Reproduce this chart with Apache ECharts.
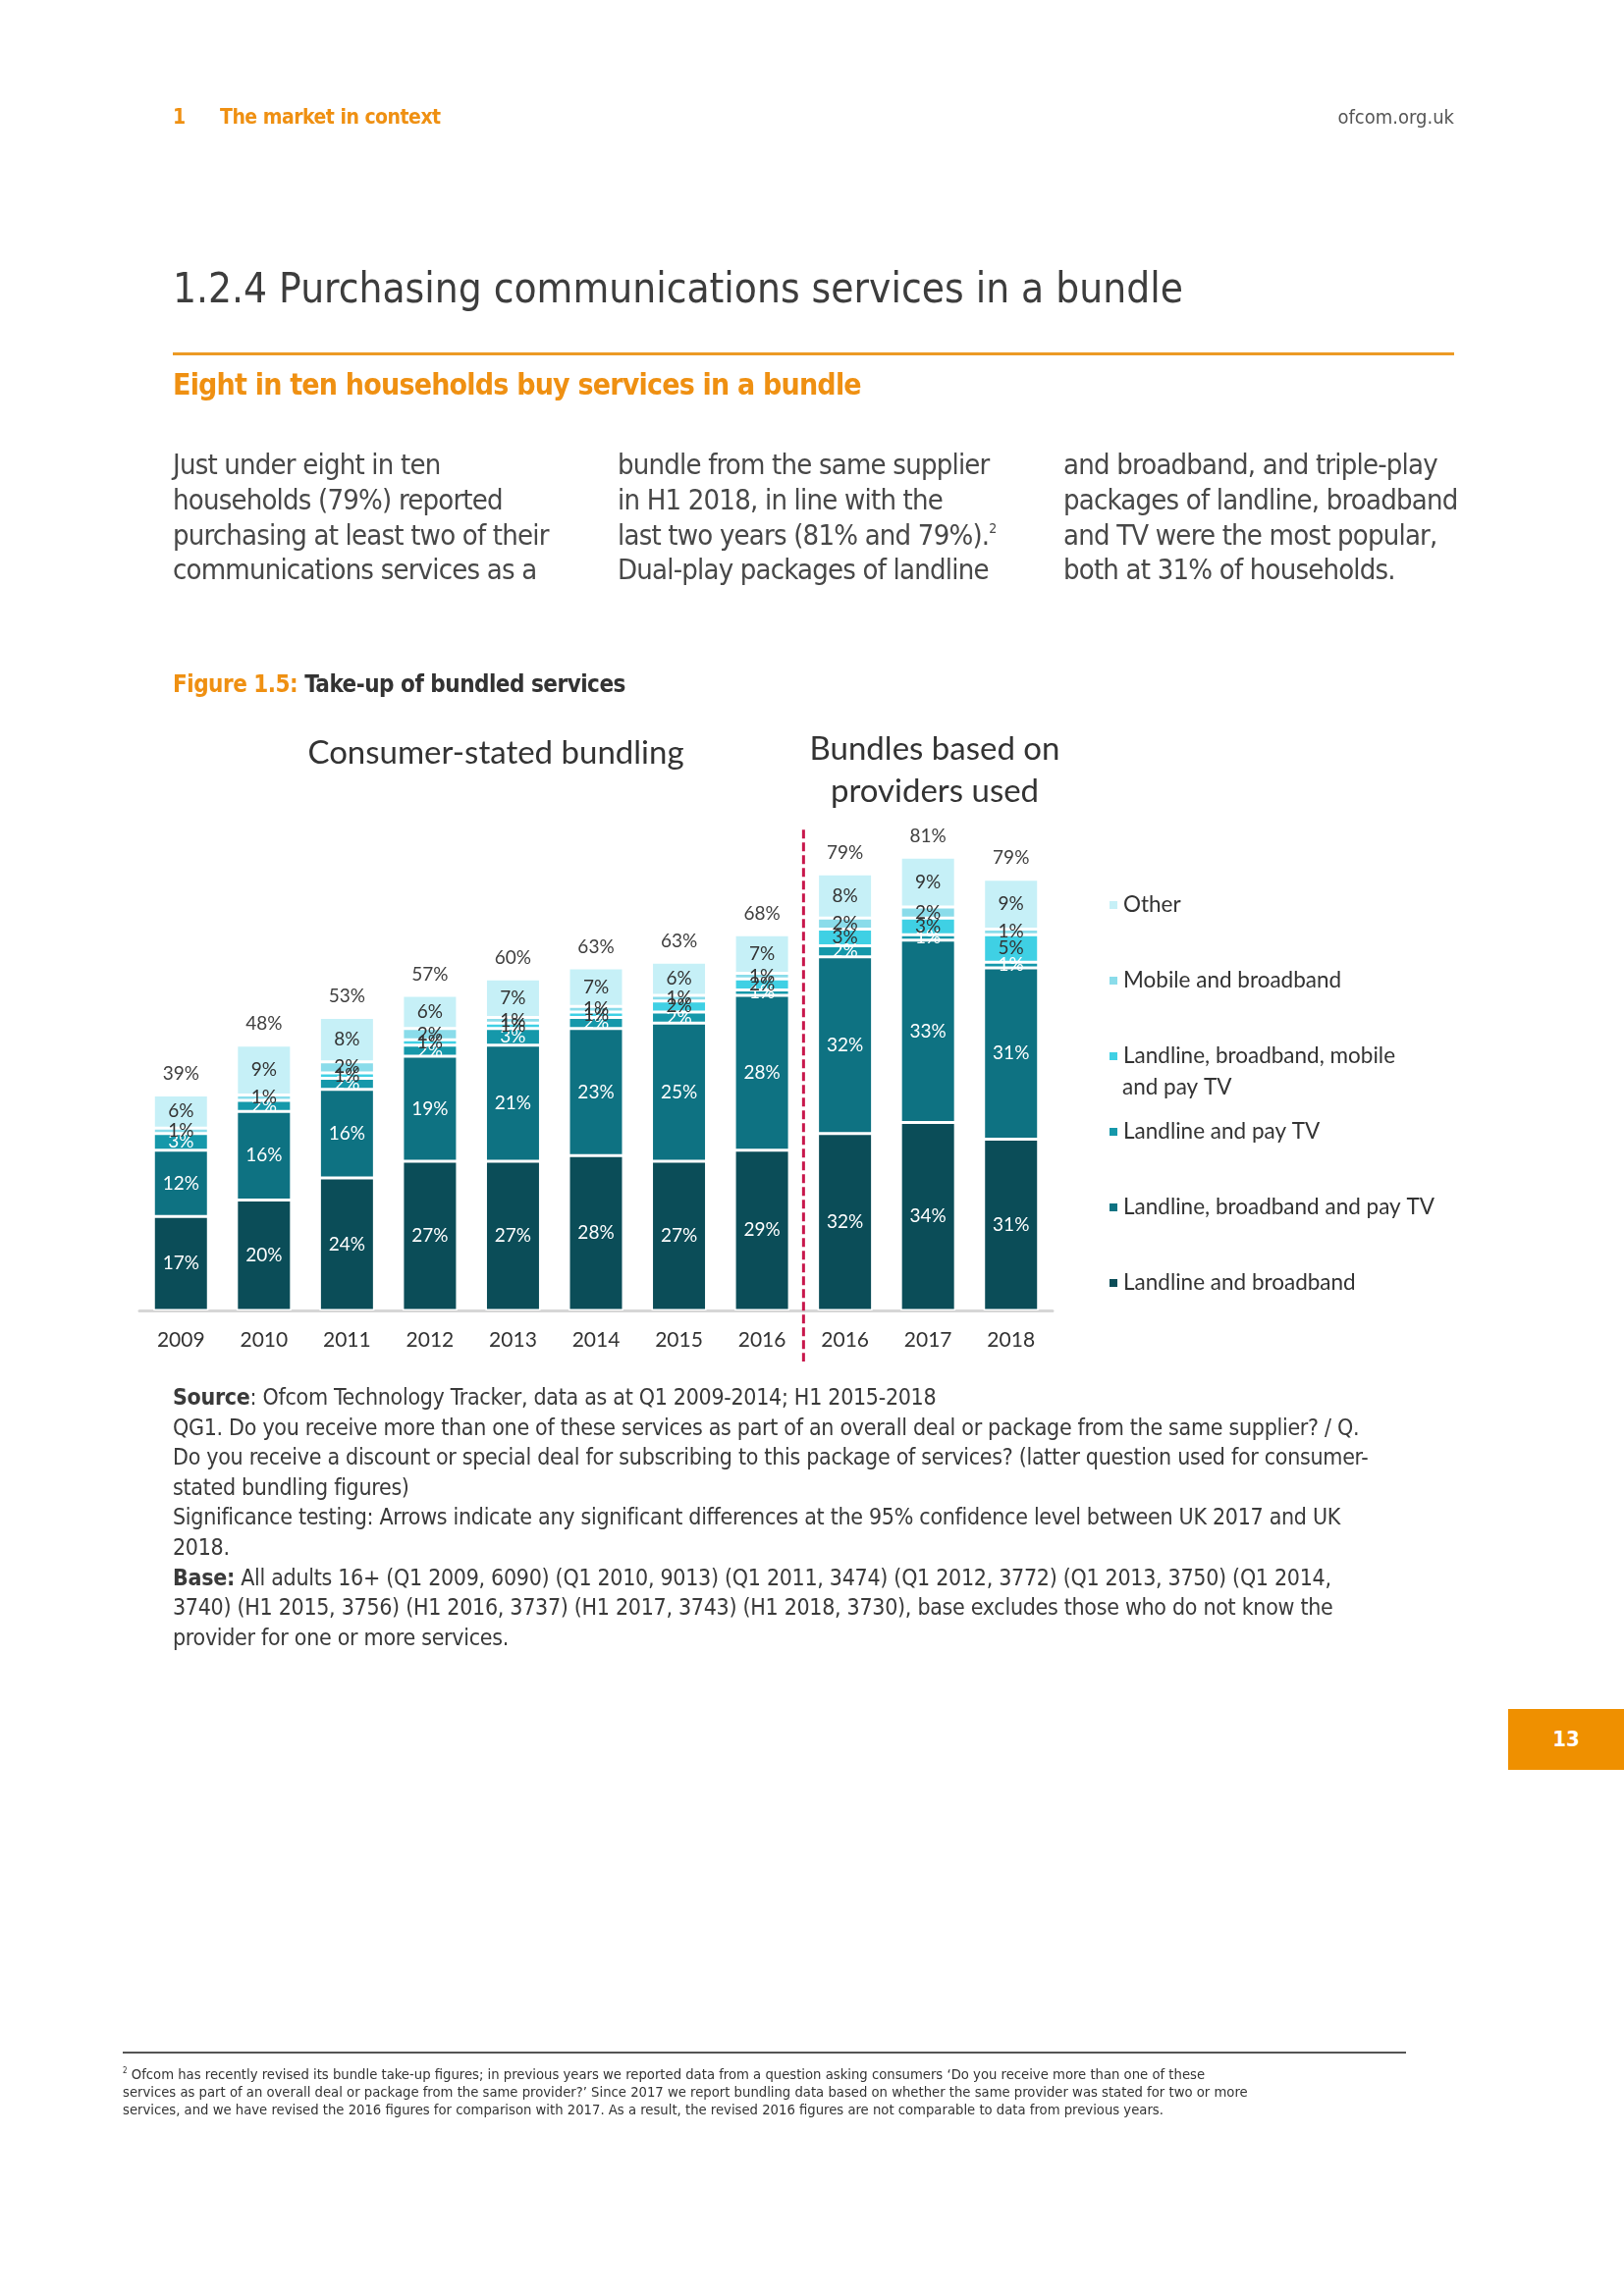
<!DOCTYPE html>
<html>
<head>
<meta charset="utf-8">
<script src="https://cdn.jsdelivr.net/npm/echarts@6/dist/echarts.min.js"></script>
<style>
  html, body { margin:0; padding:0; background:#fff; }
  body { width:1654px; height:2339px; position:relative; overflow:hidden; }
  #chart { position:absolute; left:0; top:0; width:1654px; height:2339px; }
  .t { position:absolute; white-space:nowrap; font-family:"Liberation Sans Narrow","DejaVu Sans Condensed","Roboto Condensed",sans-serif; color:#3a3a3a; }
  .orange { color:#ef9012; }
  .sup { font-size:14px; position:relative; top:-12px; line-height:0; }
</style>
</head>
<body>
<div id="chart"></div>

<div class="t orange" style="left:176px; top:105px; font-size:21px; line-height:28px; font-weight:bold;">1</div>
<div class="t orange" style="left:224px; top:105px; font-size:21px; line-height:28px; font-weight:bold; letter-spacing:-0.5px;">The market in context</div>
<div class="t" style="right:173px; top:105px; font-size:20px; line-height:28px; color:#555;">ofcom.org.uk</div>

<div class="t" style="left:176px; top:266px; font-size:42px; line-height:56px; color:#3d3d3d;">1.2.4 Purchasing communications services in a bundle</div>
<div style="position:absolute; left:176px; top:359px; width:1305px; height:3px; background:#ec9a24;"></div>
<div class="t orange" style="left:176px; top:373px; font-size:30px; line-height:38px; font-weight:bold; letter-spacing:-0.8px;">Eight in ten households buy services in a bundle</div>

<div class="t" style="left:176px; top:456px; font-size:29px; line-height:35.8px; letter-spacing:-0.8px; color:#484848;">Just under eight in ten<br>households (79%) reported<br>purchasing at least two of their<br>communications services as a</div>
<div class="t" style="left:629px; top:456px; font-size:29px; line-height:35.8px; letter-spacing:-0.8px; color:#484848;">bundle from the same supplier<br>in H1 2018, in line with the<br>last two years (81% and 79%).<span class="sup">2</span><br>Dual-play packages of landline</div>
<div class="t" style="left:1083px; top:456px; font-size:29px; line-height:35.8px; letter-spacing:-0.8px; color:#484848;">and broadband, and triple-play<br>packages of landline, broadband<br>and TV were the most popular,<br>both at 31% of households.</div>

<div class="t" style="left:176px; top:683px; font-size:24px; line-height:28px; font-weight:bold; letter-spacing:-0.5px; color:#333;"><span class="orange">Figure 1.5:</span> Take-up of bundled services</div>

<div class="t" style="left:176px; top:1408px; font-size:23px; line-height:30.6px; letter-spacing:-0.3px; color:#3a3a3a;"><b>Source</b>: Ofcom Technology Tracker, data as at Q1 2009-2014; H1 2015-2018<br>QG1. Do you receive more than one of these services as part of an overall deal or package from the same supplier? / Q.<br>Do you receive a discount or special deal for subscribing to this package of services? (latter question used for consumer-<br>stated bundling figures)<br>Significance testing: Arrows indicate any significant differences at the 95% confidence level between UK 2017 and UK<br>2018.<br><b>Base:</b> All adults 16+ (Q1 2009, 6090) (Q1 2010, 9013) (Q1 2011, 3474) (Q1 2012, 3772) (Q1 2013, 3750) (Q1 2014,<br>3740) (H1 2015, 3756) (H1 2016, 3737) (H1 2017, 3743) (H1 2018, 3730), base excludes those who do not know the<br>provider for one or more services.</div>

<div style="position:absolute; left:1536px; top:1741px; width:118px; height:62px; background:#ef9000;"></div>
<div class="t" style="left:1536px; top:1741px; width:118px; text-align:center; font-size:22px; line-height:62px; color:#fff; font-weight:bold;">13</div>

<div style="position:absolute; left:125px; top:2090px; width:1307px; height:2px; background:#555;"></div>
<div class="t" style="left:125px; top:2101px; font-size:14.7px; line-height:18px; color:#333;"><sup style="font-size:8px;">2</sup> Ofcom has recently revised its bundle take-up figures; in previous years we reported data from a question asking consumers ‘Do you receive more than one of these<br>services as part of an overall deal or package from the same provider?’ Since 2017 we report bundling data based on whether the same provider was stated for two or more<br>services, and we have revised the 2016 figures for comparison with 2017. As a result, the revised 2016 figures are not comparable to data from previous years.</div>

<script>
const categories = ['2009','2010','2011','2012','2013','2014','2015','2016 (consumer)','2016 (providers)','2017','2018'];
const yearLabels = ['2009','2010','2011','2012','2013','2014','2015','2016','2016','2017','2018'];
const landlineBroadband   = [17,20,24,27,27,28,27,29,32,34,31];
const landlineBroadbandTV = [12,16,16,19,21,23,25,28,32,33,31];
const landlineTV          = [3,2,2,2,3,2,2,1,2,1,1];
const quadPlay            = [0,0,1,1,1,1,2,2,3,3,5];
const mobileBroadband     = [1,1,2,2,1,1,1,1,2,2,1];
const other               = [6,9,8,6,7,7,6,7,8,9,9];
const totals              = [39,48,53,57,60,63,63,68,79,81,79];

const seriesDefs = [
  {name:'Landline and broadband', data:landlineBroadband, color:'#0b4d58', text:'#fff'},
  {name:'Landline, broadband and pay TV', data:landlineBroadbandTV, color:'#0e7282', text:'#fff'},
  {name:'Landline and pay TV', data:landlineTV, color:'#1598aa', text:'#fff'},
  {name:'Landline, broadband, mobile and pay TV', data:quadPlay, color:'#3fd0e4', text:'#333'},
  {name:'Mobile and broadband', data:mobileBroadband, color:'#8adcea', text:'#333'},
  {name:'Other', data:other, color:'#c6f0f7', text:'#333'}
];
const FONT = 'Lato, "Open Sans", sans-serif';

const chart = echarts.init(document.getElementById('chart'), null, {renderer:'canvas'});

const series = seriesDefs.map(s => ({
  name: s.name, type:'bar', stack:'all', barWidth:56, data:s.data,
  itemStyle:{color:s.color, borderColor:'#fff', borderWidth:1.5},
  label:{show:true, position:'inside', color:s.text, fontSize:19, fontFamily:FONT,
    formatter: p => p.value > 0 ? p.value + '%' : ''},
  emphasis:{disabled:true}
}));
series.push({
  name:'Total', type:'bar', stack:'all', barWidth:56,
  data: totals.map(() => 0),
  itemStyle:{color:'rgba(0,0,0,0)', borderWidth:0},
  label:{show:true, position:'top', distance:12, color:'#404040', fontSize:19, fontFamily:FONT,
    formatter: p => totals[p.dataIndex] + '%'},
  emphasis:{disabled:true}
});

chart.setOption({
  animation:false,
  backgroundColor:'transparent',
  title:[
    {text:'Consumer-stated bundling', left:500, top:746, textAlign:'center',
      textStyle:{fontFamily:FONT, fontWeight:'normal', fontSize:33, color:'#333'}},
    {text:'Bundles based on\nproviders used', left:947, top:737, textAlign:'center',
      textStyle:{fontFamily:FONT, fontWeight:'normal', fontSize:33, color:'#333', lineHeight:43}}
  ],
  grid:{left:142, width:930, top:772, height:563, containLabel:false},
  legend:{
    orient:'vertical', left:1128, top:907, padding:0, itemGap:47,
    itemWidth:10, itemHeight:10, icon:'rect',
    data:['Other','Mobile and broadband','Landline, broadband, mobile and pay TV','Landline and pay TV','Landline, broadband and pay TV','Landline and broadband'],
    formatter: n => n === 'Landline, broadband, mobile and pay TV' ? 'Landline, broadband, mobile' : n,
    textStyle:{fontFamily:FONT, fontSize:22.5, color:'#333', lineHeight:30},
    selectedMode:false
  },
  xAxis:{
    type:'category', data:categories,
    axisLine:{show:true, lineStyle:{color:'#d6d6d6', width:3}},
    axisTick:{show:false},
    axisLabel:{margin:20, fontSize:21, fontFamily:FONT, color:'#333',
      formatter:(v, i) => yearLabels[i]}
  },
  yAxis:{type:'value', min:0, max:100, show:false, splitLine:{show:false}},
  series: series
});

// divider between the two data sources, placed via the axis scale
const xa = chart.convertToPixel({xAxisIndex:0}, 7);
const xb = chart.convertToPixel({xAxisIndex:0}, 8);
const yTop = chart.convertToPixel({yAxisIndex:0}, 87);
const yBase = chart.convertToPixel({yAxisIndex:0}, 0);
chart.setOption({
  graphic:[
    {type:'line', shape:{x1:(xa+xb)/2, y1:yTop, x2:(xa+xb)/2, y2:yBase+52},
      style:{stroke:'#c8174b', lineWidth:3, lineDash:[9,4]}, z:100},
    {type:'text', left:1143, top:1096,
      style:{text:'and pay TV', fontFamily:FONT, fontSize:22.5, fill:'#333'}}
  ]
});
</script>
</body>
</html>
